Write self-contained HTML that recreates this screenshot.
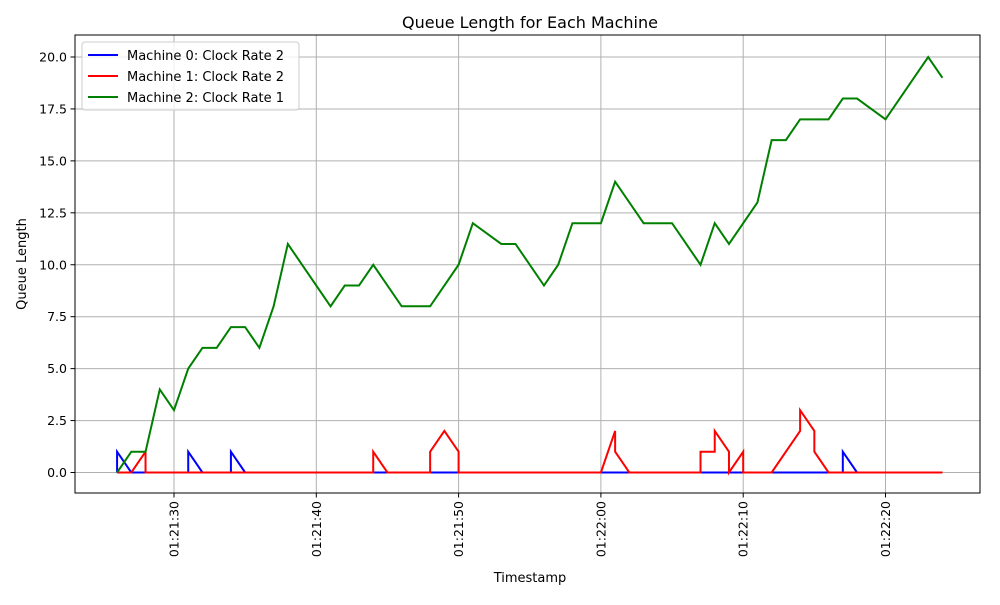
<!DOCTYPE html>
<html><head><meta charset="utf-8"><style>
body{margin:0;background:#fff;font-family:"Liberation Sans","DejaVu Sans",sans-serif;}
</style></head><body>
<svg id="chart" width="1000" height="600" xmlns="http://www.w3.org/2000/svg" font-family="DejaVu Sans, Liberation Sans, sans-serif">
<rect width="1000" height="600" fill="#fff"/>
<text x="530" y="28" font-size="16" text-anchor="middle">Queue Length for Each Machine</text>
<g id="grid"></g>
<g id="series"></g>
<rect x="75" y="35" width="905" height="458" fill="none" stroke="#000" stroke-width="1"/>
<g id="ticks"></g>
<text x="530" y="582" font-size="13" text-anchor="middle">Timestamp</text>
<text transform="translate(26,264) rotate(-90)" font-size="13" text-anchor="middle">Queue Length</text>
<g>
<rect x="82" y="42" width="217" height="68" rx="3" fill="#fff" fill-opacity="0.8" stroke="#ccc"/>
<line x1="88" y1="55" x2="118" y2="55" stroke="#0000ff" stroke-width="2"/>
<text x="127" y="60" font-size="13">Machine 0: Clock Rate 2</text>
<line x1="88" y1="76" x2="118" y2="76" stroke="#ff0000" stroke-width="2"/>
<text x="127" y="81" font-size="13">Machine 1: Clock Rate 2</text>
<line x1="88" y1="97" x2="118" y2="97" stroke="#008000" stroke-width="2"/>
<text x="127" y="102" font-size="13">Machine 2: Clock Rate 1</text>
</g>
</svg>
<script>
// time = seconds after 01:21:00
const m0T=[26,26,27,31,31,32,34,34,35,77,77,78,84];
const m0V=[0,1,0,0,1,0,0,1,0,0,1,0,0];
const m1T=[26,27,28,28,44,44,45,48,48,49,50,50,60,61,61,62,67,67,68,68,69,69,70,70,72,74,74,75,75,76,84];
const m1V=[0,0,1,0,0,1,0,0,1,2,1,0,0,2,1,0,0,1,1,2,1,0,1,0,0,2,3,2,1,0,0];
const m2T=[26,27,28,29,30,31,32,33,34,35,36,37,38,41,42,43,44,46,48,50,51,53,54,56,57,58,60,61,63,65,67,68,69,71,72,73,74,76,77,78,80,83,84];
const m2V=[0,1,1,4,3,5,6,6,7,7,6,8,11,8,9,9,10,8,8,10,12,11,11,9,10,12,12,14,12,12,10,12,11,13,16,16,17,17,18,18,17,20,19];
const xTickSec=[30,40,50,60,70,80];
const xTickLabels=["01:21:30","01:21:40","01:21:50","01:22:00","01:22:10","01:22:20"];
const yTicks=[0,2.5,5,7.5,10,12.5,15,17.5,20];
const yTickLabels=["0.0","2.5","5.0","7.5","10.0","12.5","15.0","17.5","20.0"];

const X=t=>174+(t-30)*14.23;
const Y=v=>472.5-v*20.775;
const NS="http://www.w3.org/2000/svg";
const grid=document.getElementById('grid'),ticks=document.getElementById('ticks'),ser=document.getElementById('series');
function mk(tag,attrs,parent){const e=document.createElementNS(NS,tag);for(const k in attrs)e.setAttribute(k,attrs[k]);parent.appendChild(e);return e;}
xTickSec.forEach((s,i)=>{
  const x=X(s);
  const g=mk('line',{x1:x,x2:x,y1:35,y2:493,stroke:'#b0b0b0','stroke-width':1},grid);
  
  
  mk('line',{x1:x,x2:x,y1:493,y2:497.5,stroke:'#000'},ticks);
  const t=mk('text',{x:0,y:0,'font-size':12.5,'text-anchor':'end',transform:`translate(${x+4.5},501) rotate(-90)`},ticks);
  t.textContent=xTickLabels[i];
  
  
});
yTicks.forEach((v,i)=>{
  const y=Y(v);
  const g=mk('line',{x1:75,x2:980,y1:y,y2:y,stroke:'#b0b0b0','stroke-width':1},grid);
  
  
  mk('line',{x1:70.5,x2:75,y1:y,y2:y,stroke:'#000'},ticks);
  const t=mk('text',{x:67,y:y+4.5,'font-size':12.5,'text-anchor':'end'},ticks);
  t.textContent=yTickLabels[i];
  
  
});
[[m0T,m0V,'#0000ff','machine-0-line'],[m1T,m1V,'#ff0000','machine-1-line'],[m2T,m2V,'#008000','machine-2-line']].forEach(([T,V,c,n])=>{
  const p=mk('polyline',{points:T.map((t,i)=>X(t)+','+Y(V[i])).join(' '),fill:'none',stroke:c,'stroke-width':2,'stroke-linejoin':'miter'},ser);
  
  
});
</script>
</body></html>
